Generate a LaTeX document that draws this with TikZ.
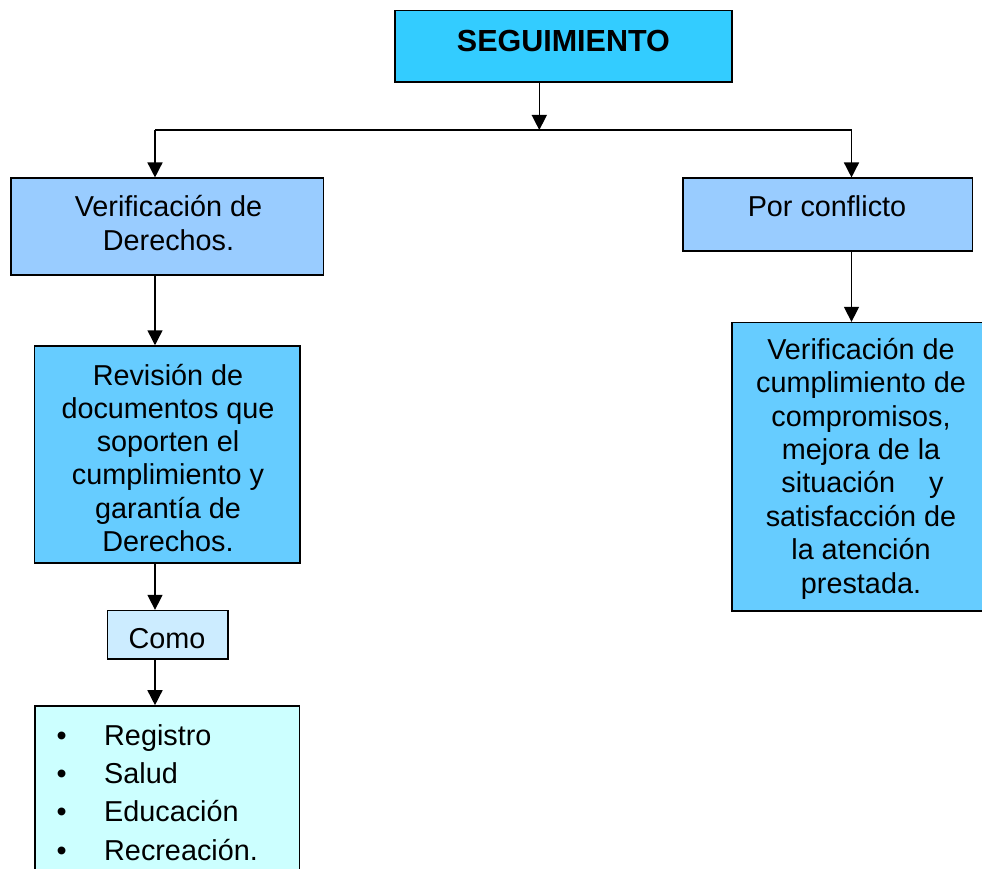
\documentclass[tikz,border=0pt]{standalone}
\usepackage{fontspec}
\setmainfont{Liberation Sans}
\usetikzlibrary{arrows.meta}
\definecolor{cSeg}{HTML}{33CCFF}
\definecolor{cMid}{HTML}{99CCFF}
\definecolor{cDeep}{HTML}{66CCFF}
\definecolor{cComo}{HTML}{CCECFF}
\definecolor{cList}{HTML}{CCFFFF}
\tikzset{
  boxnode/.style={draw=black, line width=1.6pt, rectangle, inner sep=0pt},
  txt/.style={anchor=base, inner sep=0pt, font=\fontsize{28.8}{33}\selectfont},
  ltxt/.style={anchor=base west, inner sep=0pt, font=\fontsize{28.8}{33}\selectfont},
  conn/.style={line width=1.5pt, draw=black},
  arr/.style={conn, -{Triangle[length=15pt,width=15pt]}}
}
\begin{document}
\begin{tikzpicture}[x=1pt,y=-1pt]
\clip (0,0) rectangle (982,869);
\fill[white] (0,0) rectangle (982,869);
% boxes
\node[boxnode, fill=cSeg, minimum width=336.7pt, minimum height=71.6pt] (seg) at (563.4,46.5) {};
\node[boxnode, fill=cMid, minimum width=312.3pt, minimum height=96.7pt] (ver) at (167.2,226.6) {};
\node[boxnode, fill=cMid, minimum width=289.6pt, minimum height=72.7pt] (por) at (827.5,214.6) {};
\node[boxnode, fill=cDeep, minimum width=265.7pt, minimum height=216.7pt] (rev) at (167.2,454.4) {};
\node[boxnode, fill=cComo, minimum width=120.4pt, minimum height=48.3pt] (como) at (167.5,634.8) {};
\node[boxnode, fill=cList, minimum width=264.3pt, minimum height=200pt] (lst) at (167.2,806) {};
\node[boxnode, fill=cDeep, minimum width=260pt, minimum height=288.3pt] (cum) at (861.7,466.8) {};
% junction
\coordinate (jl) at (155,130);
\coordinate (jm) at (539.3,130);
\coordinate (jr) at (851.5,130);
\draw[conn] (jl) -- (jr);
\draw[arr] (seg.south -| jm) -- (jm);
\draw[arr] (jl) -- (ver.north -| jl);
\draw[arr] (jr) -- (por.north -| jr);
\draw[arr] (ver.south -| jl) -- (rev.north -| jl);
\draw[arr] (rev.south -| jl) -- (como.north -| jl);
\draw[arr] (como.south -| jl) -- (lst.north -| jl);
\draw[arr] (por.south -| jr) -- (cum.north -| jr);
% texts
\node[anchor=base, inner sep=0pt, font=\fontsize{30.5}{34}\selectfont\bfseries] (tseg) at (563.4,52) {SEGUIMIENTO};
\node[txt] (tv1) at (168.5,217) {Verificación de};
\node[txt] (tv2) at (168.5,250) {Derechos.};
\node[txt] (tp1) at (827,217) {Por conflicto};
\begin{scope}
\clip (30,340) rectangle (310,551.5);
\node[txt] (tr1) at (168,385) {Revisión de};
\node[txt] (tr2) at (168,418.3) {documentos que};
\node[txt] (tr3) at (168,451.6) {soporten el};
\node[txt] (tr4) at (168,484.9) {cumplimiento y};
\node[txt] (tr5) at (168,518.2) {garantía de};
\node[txt] (tr6) at (168,551.5) {Derechos.};
\end{scope}
\node[txt] (tc1) at (167,648) {Como};
\foreach \i/\t/\yy in {1/Registro/745, 2/Salud/783.3, 3/Educación/821.6, 4/Recreación./860}{
  \node[txt] (b\i) at (61.7,\yy) {•};
  \node[ltxt] (l\i) at (104,\yy) {\t};
}
\node[txt] (tk1) at (861,359) {Verificación de};
\node[txt] (tk2) at (861,392.5) {cumplimiento de};
\node[txt] (tk3) at (861,426) {compromisos,};
\node[txt] (tk4) at (861,459.4) {mejora de la};
\node[txt] (tk5) at (862.5,492.9) {situación\hspace{34pt}y};
\node[txt] (tk6) at (861,526.3) {satisfacción de};
\node[txt] (tk7) at (861,559.8) {la atención};
\node[txt] (tk8) at (861,593.3) {prestada.};
\end{tikzpicture}
\end{document}
